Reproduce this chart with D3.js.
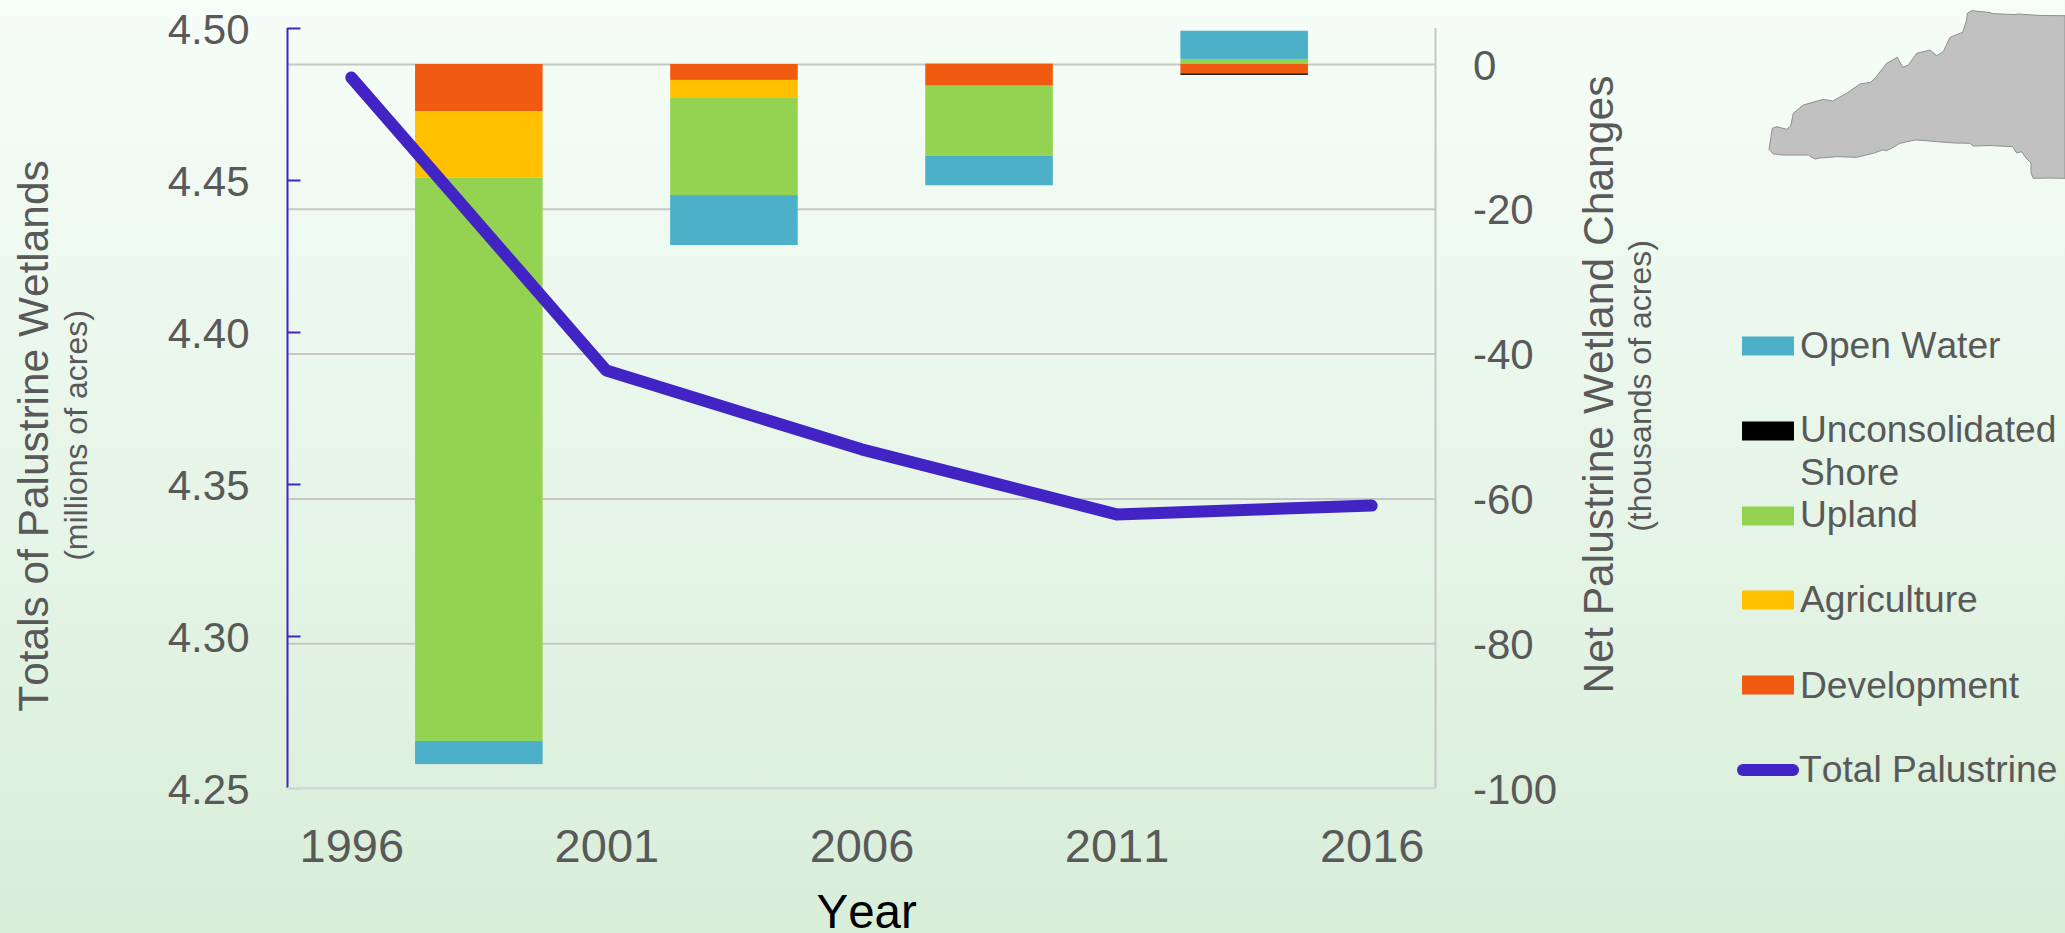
<!DOCTYPE html>
<html><head><meta charset="utf-8">
<script src="https://cdn.jsdelivr.net/npm/d3@7/dist/d3.min.js"></script>
<style>html,body{margin:0;padding:0;overflow:hidden;background:#e8f5e9}svg{display:block}text{font-family:"Liberation Sans",Arial,sans-serif;fill:#595959;font-kerning:none}</style>
</head><body><div id="chart"></div>
<script>
const lineYears = [1996, 2001, 2006, 2011, 2016];
const barCentres = [1998.5, 2003.5, 2008.5, 2013.5];
const development = [-6.5, -2.2, -3.0, -1.3];
const agriculture = [-9.2, -2.4, 0.15, 0];
const upland = [-77.8, -13.5, -9.7, 0.7];
const shore = [0, 0, 0, -0.2];
const openWater = [-3.2, -6.9, -4.05, 3.9];
const totalPalustrine = [4.4837, 4.3873, 4.3614, 4.3400, 4.3429];
const leftTicks = [4.25, 4.30, 4.35, 4.40, 4.45, 4.50];
const rightTicks = [-100, -80, -60, -40, -20, 0];
const seriesNames = ["Development", "Agriculture", "Upland", "Unconsolidated Shore", "Open Water"];
const seriesValues = [development, agriculture, upland, shore, openWater];
const seriesColors = ["#f15a11", "#ffc000", "#94d351", "#000000", "#4bb0c8"];
// decorative locator silhouette (state outline), page pixels
const mapOutline = [[1971.7,10.7],[1990,12.5],[1992,13.6],[2015,14.6],[2018,14],[2040,15.5],[2065,15.7],[2065,178.3],[2050,178],[2033.3,178.3],[2031,173],[2031,163],[2026,158],[2021.7,151.7],[2016.7,153],[2012.7,146.7],[1990,145.5],[1973.3,146],[1970,143.3],[1955,143],[1936.7,141.7],[1925,140.5],[1915,140],[1900,143.3],[1892,148],[1886.7,150.7],[1883,149.8],[1873.3,153.3],[1856.7,157.3],[1836.7,156.7],[1820,158],[1815,159],[1808.3,155],[1783.3,155],[1773.3,154],[1769,149.3],[1772.3,128.3],[1776.7,126.7],[1786.7,129.3],[1790.7,126],[1793.3,113.3],[1803.3,105],[1823.3,99.3],[1832.7,101],[1846.7,93.3],[1860,84],[1870.7,82.3],[1875,78.3],[1886.7,63.3],[1897.3,57.3],[1902.7,67.3],[1908.3,65],[1916.7,53.3],[1930,50],[1936.7,55.7],[1943.3,51.7],[1950,37.3],[1962.7,32.3],[1966.7,20],[1967.3,13.3]];

const W = 2065, H = 933;
const plot = {l: 287.5, r: 1435.5, t: 28, b: 788};
const TEXT = "#595959", PURPLE = "#4224c4", GRID = "#c4c7c4";

const x = d3.scaleLinear().domain([1994.75, 2017.25]).range([plot.l, plot.r]);
const yL = d3.scaleLinear().domain([4.25, 4.50]).range([plot.b, plot.t]);
const yR = d3.scaleLinear().domain([-100, 0]).range([plot.b, 64]);

const svg = d3.select("#chart").append("svg").attr("width", W).attr("height", H);
const grad = svg.append("defs").append("linearGradient").attr("id", "bg").attr("x1", 0).attr("y1", 0).attr("x2", 0).attr("y2", 1);
grad.append("stop").attr("offset", 0).attr("stop-color", "#f6fdf8");
grad.append("stop").attr("offset", 1).attr("stop-color", "#d8eed9");
svg.append("rect").attr("width", W).attr("height", H).attr("fill", "url(#bg)");

// map
svg.append("path").attr("d", d3.line().curve(d3.curveLinearClosed)(mapOutline))
  .attr("fill", "#c1c1c1").attr("stroke", "#8f8f8f").attr("stroke-width", 1);

// right axis + gridlines
const rAxis = svg.append("g").attr("transform", `translate(${plot.r},0)`)
  .call(d3.axisRight(yR).tickValues(rightTicks).tickFormat(d => String(d)).tickSize(-(plot.r - plot.l)).tickPadding(37.5));
rAxis.selectAll("line").attr("stroke", GRID).attr("stroke-width", 2);
rAxis.select(".domain").attr("d", `M0,${plot.t}V${plot.b}`).attr("stroke", GRID).attr("stroke-width", 2).attr("fill", "none");
rAxis.selectAll("text").attr("font-size", 42).attr("dy", "0.36em").style("fill", TEXT);
rAxis.selectAll(".tick").filter(d => d === -100).select("line").attr("stroke", "#d6d6d6");

// stacked bars
const rows = barCentres.map((c, i) => {
  const r = {centre: c};
  seriesNames.forEach((n, k) => r[n] = seriesValues[k][i]);
  return r;
});
const stacked = d3.stack().keys(seriesNames).offset(d3.stackOffsetDiverging)(rows);
const barW = x(2.5) - x(0);
svg.append("g").selectAll("g").data(stacked).join("g")
  .attr("fill", (d, i) => seriesColors[i])
  .selectAll("rect").data(d => d.filter(p => p[0] !== p[1])).join("rect")
  .attr("x", d => x(d.data.centre) - barW / 2)
  .attr("width", barW)
  .attr("y", d => yR(Math.max(d[0], d[1])))
  .attr("height", d => Math.abs(yR(d[0]) - yR(d[1])));

// left axis
const lAxis = svg.append("g").attr("transform", `translate(${plot.l},0)`)
  .call(d3.axisLeft(yL).tickValues(leftTicks).tickFormat(d3.format(".2f")).tickSize(-13).tickPadding(38));
lAxis.selectAll("line").attr("stroke", PURPLE).attr("stroke-width", 2);
lAxis.select(".domain").attr("d", `M0,${plot.t}V${plot.b}`).attr("stroke", PURPLE).attr("stroke-width", 2).attr("fill", "none");
lAxis.selectAll("text").attr("font-size", 42).attr("dy", "0.36em").style("fill", TEXT);
lAxis.selectAll(".tick").filter(d => d === 4.25).select("line").attr("stroke", "#c9c6e4");

// bottom labels
const bAxis = svg.append("g").attr("transform", `translate(0,${plot.b})`)
  .call(d3.axisBottom(x).tickValues(lineYears).tickFormat(d => String(d)).tickSize(0).tickPadding(40.6));
bAxis.select(".domain").attr("d", `M${plot.l},0H${plot.r}`).attr("stroke", "#d5d5d8").attr("stroke-width", 2).attr("fill", "none");
bAxis.selectAll("text").attr("font-size", 47).style("fill", TEXT);

// line
const line = d3.line().x((d, i) => x(lineYears[i])).y(d => yL(d));
svg.append("path").attr("d", line(totalPalustrine)).attr("fill", "none")
  .attr("stroke", PURPLE).attr("stroke-width", 12).attr("stroke-linecap", "round").attr("stroke-linejoin", "round");

// titles
function vTitle(xp, yc, txt, size) {
  svg.append("text").attr("transform", `translate(${xp},${yc}) rotate(-90)`)
    .attr("text-anchor", "middle").attr("font-size", size).text(txt);
}
vTitle(47.5, 436, "Totals of Palustrine Wetlands", 42.4);
vTitle(87, 435.5, "(millions of acres)", 32);
vTitle(1613, 384.5, "Net Palustrine Wetland Changes", 42.6);
vTitle(1651, 386, "(thousands of acres)", 32);
svg.append("text").attr("x", 866.7).attr("y", 928).attr("text-anchor", "middle").attr("font-size", 47.5).style("fill", "#000").text("Year");

// legend
const legend = [
  {name: ["Open Water"], color: "#4bb0c8", cy: 346, base: [358]},
  {name: ["Unconsolidated", "Shore"], color: "#000000", cy: 431, base: [442, 485]},
  {name: ["Upland"], color: "#94d351", cy: 516, base: [527]},
  {name: ["Agriculture"], color: "#ffc000", cy: 600, base: [612]},
  {name: ["Development"], color: "#f15a11", cy: 685, base: [698]}
];
legend.forEach(l => {
  svg.append("rect").attr("x", 1742).attr("y", l.cy - 9.5).attr("width", 52).attr("height", 19).attr("fill", l.color);
  l.name.forEach((t, i) => svg.append("text").attr("x", 1800).attr("y", l.base[i]).attr("font-size", 37.2).text(t));
});
svg.append("line").attr("x1", 1743).attr("x2", 1793).attr("y1", 770).attr("y2", 770)
  .attr("stroke", PURPLE).attr("stroke-width", 12).attr("stroke-linecap", "round");
svg.append("text").attr("x", 1799).attr("y", 782).attr("font-size", 37.2).text("Total Palustrine");
</script></body></html>
